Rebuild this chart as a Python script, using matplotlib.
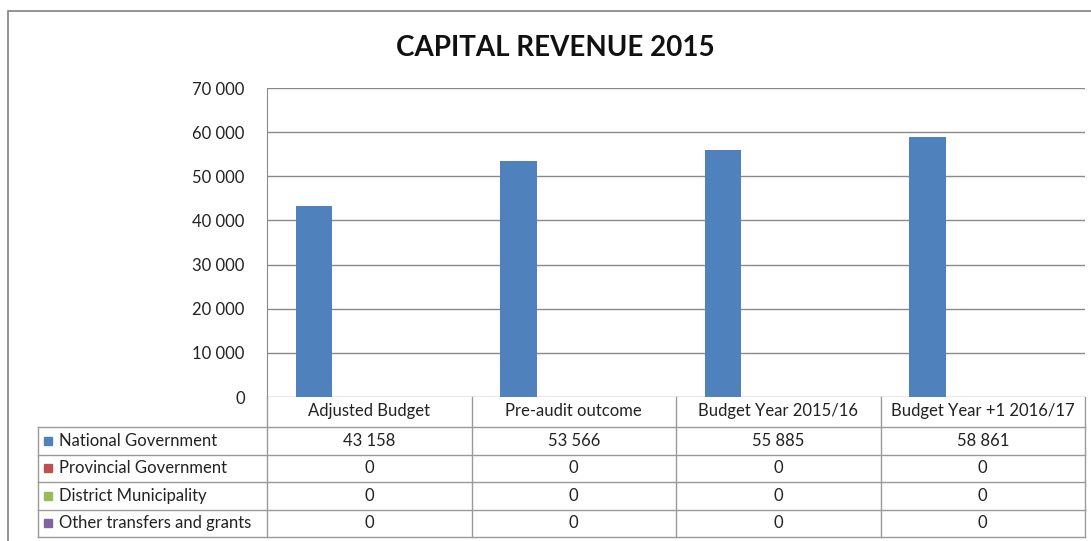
import matplotlib.pyplot as plt
from matplotlib.patches import Rectangle
import numpy as np

# data
categories = ["Adjusted Budget", "Pre-audit outcome", "Budget Year 2015/16", "Budget Year +1 2016/17"]
series_names = ["National Government", "Provincial Government", "District Municipality", "Other transfers and grants"]
national = [43158, 53566, 55885, 58861]
provincial = [0, 0, 0, 0]
district = [0, 0, 0, 0]
other = [0, 0, 0, 0]
yticks = [0, 10000, 20000, 30000, 40000, 50000, 60000, 70000]

colors = ["#4F81BD", "#C0504D", "#9BBB59", "#8064A2"]
all_series = [national, provincial, district, other]

plt.rcParams['font.family'] = ['Lato', 'DejaVu Sans']

W, H = 1091, 541
fig = plt.figure(figsize=(W / 100, H / 100), dpi=100)

def fx(px):
    return px / W

def fy(py):
    return 1 - py / H

# outer frame of the chart
fig.patches.append(Rectangle((fx(8), fy(545)), fx(1095) - fx(8), fy(11) - fy(545),
                             transform=fig.transFigure, fill=False, ec="#808080", lw=1.2))

fig.text(fx(555), fy(48), "CAPITAL REVENUE 2015", ha="center", va="center",
         fontsize=20, fontweight="bold", color="#111111")

ax = fig.add_axes([fx(267), fy(397), fx(1085) - fx(267), fy(88) - fy(397)])
x = np.arange(len(categories))
w = 0.18
for i, vals in enumerate(all_series):
    ax.bar(x + (i - 1.5) * w, vals, width=w, color=colors[i], zorder=3)

ax.set_xlim(-0.5, 3.5)
ax.set_ylim(0, 70000)
ax.set_yticks(yticks)
ax.set_yticklabels([f"{v:,}".replace(",", " ") for v in yticks], fontsize=12, color="#222222")
ax.tick_params(axis="y", length=0, pad=16)
ax.set_xticks([])
ax.grid(axis="y", color="#8a8a8a", lw=1, zorder=0)
for s in ["top", "right", "bottom"]:
    ax.spines[s].set_visible(False)
ax.spines["left"].set_color("#8a8a8a")

# data table under the chart
tab = fig.add_axes([fx(38), fy(537), fx(1085) - fx(38), fy(397) - fy(537)])
tab.set_xlim(-0.5 - (267 - 38) / 204.5, 3.5)
tab.set_ylim(140, 0)
tab.axis("off")
left = -0.5 - (267 - 38) / 204.5
rows = [0, 30, 57.5, 85, 112.5, 140]
lc = "#9a9a9a"
for r in rows[1:]:
    tab.plot([left, 3.5], [r, r], color=lc, lw=1, clip_on=False)
tab.plot([left, left], [rows[1], rows[-1]], color=lc, lw=1, clip_on=False)
for b in np.arange(len(categories) + 1) - 0.5:
    tab.plot([b, b], [0, 140], color=lc, lw=1, clip_on=False)

for j, c in enumerate(categories):
    tab.text(j, rows[0] + 14, c, ha="center", va="center", fontsize=12, color="#222222")

for i, (name, vals) in enumerate(zip(series_names, all_series)):
    yc = (rows[i + 1] + rows[i + 2]) / 2
    tab.add_patch(Rectangle((left + 6 / 204.5, yc - 4), 8 / 204.5, 8, color=colors[i], clip_on=False))
    tab.text(left + 21 / 204.5, yc, name, ha="left", va="center", fontsize=12, color="#222222")
    for j, v in enumerate(vals):
        tab.text(j, yc, f"{v:,}".replace(",", " "), ha="center", va="center", fontsize=12, color="#222222")

fig.savefig("out.png", dpi=100, facecolor="white")
